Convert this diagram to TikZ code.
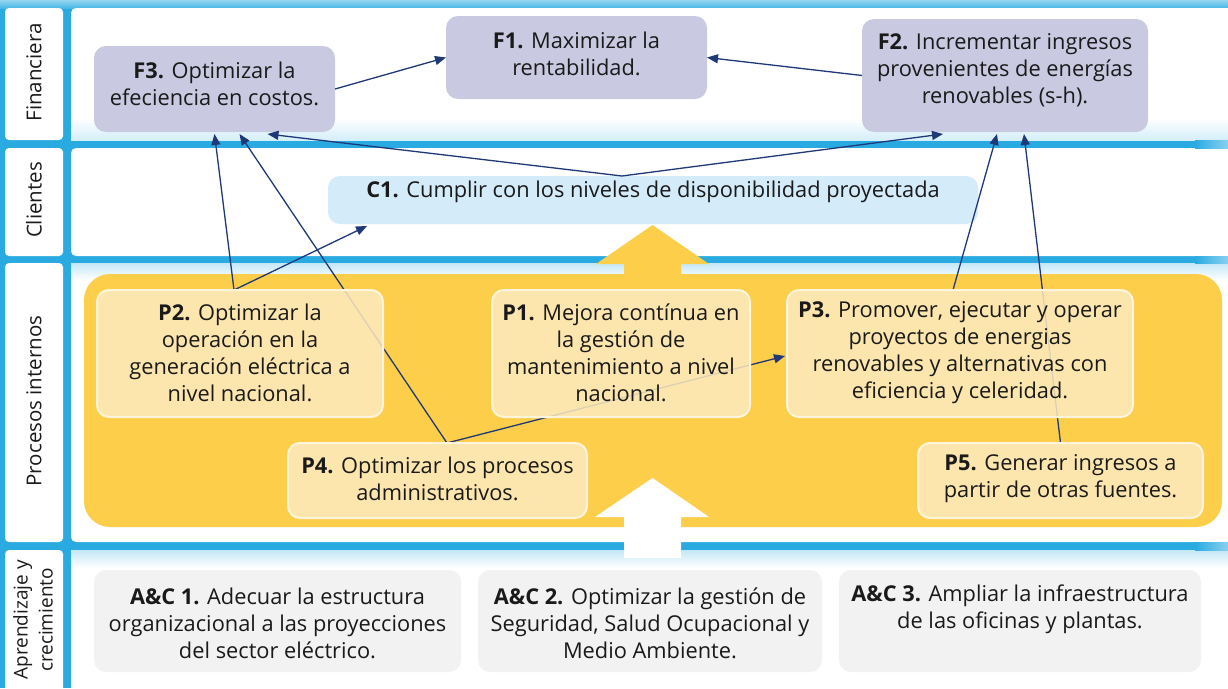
\documentclass[tikz,border=0pt]{standalone}
\usepackage{fontspec}
\setmainfont{Open Sans}
\usetikzlibrary{arrows.meta}
\definecolor{bandblue}{HTML}{29ABE2}
\definecolor{lightblue}{HTML}{D4EBFA}
\definecolor{lav}{HTML}{C9C9E2}
\definecolor{gold}{HTML}{FDCE4A}
\definecolor{cream}{HTML}{FDEBBF}
\definecolor{creamline}{HTML}{FFF5DD}
\definecolor{greybox}{HTML}{F2F2F2}
\definecolor{navy}{HTML}{1F3878}
\definecolor{ink}{HTML}{1A1A1A}
\begin{document}
\begin{tikzpicture}[x=1pt,y=-1pt,
  every node/.style={inner sep=0pt, outer sep=0pt},
  panel/.style={fill=white, rounded corners=5pt},
  lblpanel/.style={fill=white, rounded corners=4pt},
  fbox/.style={fill=lav, rounded corners=12pt},
  cbox/.style={fill=lightblue, rounded corners=12pt},
  pbox/.style={fill=cream, fill opacity=0.85, draw=creamline, draw opacity=1, line width=2pt, rounded corners=12pt},
  abox/.style={fill=greybox, rounded corners=12pt},
  txt/.style={align=center, text=ink, font=\fontsize{21.8}{27}\selectfont},
  lbl/.style={align=center, text=ink, rotate=90, font=\fontsize{20.5}{25}\selectfont},
  lblsmall/.style={align=center, text=ink, rotate=90, font=\fontsize{19}{25}\selectfont},
  arr/.style={draw=navy, line width=1.3pt, -{Triangle[length=11pt,width=9pt]}}
]
\useasboundingbox (0,0) rectangle (1228,688);
% background
\fill[bandblue] (0,0) rectangle (1228,688);
\shade[top color=bandblue!50, bottom color=bandblue!85] (0,0) rectangle (1228,8);
% label panels
\fill[lblpanel] (5,8) rectangle (63,140);
\fill[lblpanel] (5,148) rectangle (63,256);
\fill[lblpanel] (5,263) rectangle (63,542);
\fill[lblpanel] (5,550) rectangle (63,700);
% main panels
\fill[panel] (71,8) rectangle (1240,140);
\fill[panel] (71,148) rectangle (1240,256);
\fill[panel] (71,263) rectangle (1240,542);
\fill[panel] (71,550) rectangle (1240,700);
% fades
\shade[top color=white, bottom color=bandblue!20] (71,118) rectangle (1228,140);
\shade[top color=bandblue!28, bottom color=white] (71,263) rectangle (1228,280);
\shade[top color=bandblue!28, bottom color=white] (71,550) rectangle (1228,568);
\shade[left color=bandblue, right color=bandblue!55] (1195,140) rectangle (1228,148);
\shade[left color=bandblue, right color=bandblue!55] (1195,256) rectangle (1228,263);
\shade[left color=bandblue, right color=bandblue!55] (1195,542) rectangle (1228,550);
% labels
\node[lbl] (lf) at (34,72.5) {Financiera};
\node[lbl] (lc) at (34,200) {Clientes};
\node[lbl] (lp) at (34,401) {Procesos internos};
\node[lblsmall] (la) at (33,620) {Aprendizaje y\\crecimiento};
% yellow area
\fill[gold, rounded corners=26pt] (84,274) rectangle (1222,527);
\fill[gold] (624,276) -- (624,264) -- (596,264) -- (652.5,225) -- (709,264) -- (681,264) -- (681,276) -- cycle;
\fill[white] (624,558) -- (624,517) -- (595,517) -- (652.5,478) -- (709,517) -- (681,517) -- (681,558) -- cycle;
% boxes
\node[fbox, minimum width=241pt, minimum height=86pt] (F3) at (214.5,89) {};
\node[fbox, minimum width=261pt, minimum height=83pt] (F1) at (576.5,57.5) {};
\node[fbox, minimum width=286pt, minimum height=113pt] (F2) at (1005,75.5) {};
\node[cbox, minimum width=650pt, minimum height=48pt] (C1) at (653,200) {};
\node[abox, minimum width=367pt, minimum height=102pt] (A1) at (277.5,621) {};
\node[abox, minimum width=344pt, minimum height=102pt] (A2) at (650,621) {};
\node[abox, minimum width=362pt, minimum height=102pt] (A3) at (1020,621) {};
% connectors
\draw[arr] (F3.east) -- (F1.west);
\draw[arr] (F2.west) -- (F1.east);
\draw[arr] ([xshift=-31pt]C1.north) -- ([xshift=53pt,yshift=-2pt]F3.south);
\draw[arr] ([xshift=-31pt]C1.north) -- ([xshift=-62pt,yshift=-2pt]F2.south);
\coordinate (p2top) at (234,290);
\coordinate (p4top) at (447,443);
\coordinate (p3top) at (953,290);
\coordinate (p5top) at (1060.5,443);
\coordinate (p3in) at (785,356);
\draw[arr] (p2top) -- ([yshift=-2pt]F3.south);
\draw[arr] (p2top) -- ([xshift=39pt,yshift=-2pt]C1.south west);
\draw[arr] (p4top) -- ([xshift=25pt,yshift=-2pt]F3.south);
\draw[arr] (p4top) -- (p3in);
\draw[arr] (p3top) -- ([xshift=-8pt,yshift=-2pt]F2.south);
\draw[arr] (p5top) -- ([xshift=19pt,yshift=-2pt]F2.south);
% process boxes (over the connectors)
\node[pbox, minimum width=286pt, minimum height=127pt] (P2) at (240,353.5) {};
\node[pbox, minimum width=258pt, minimum height=127pt] (P1) at (621,353.5) {};
\node[pbox, minimum width=346pt, minimum height=127pt] (P3) at (960,353.5) {};
\node[pbox, minimum width=299pt, minimum height=75pt] (P4) at (437.5,480.5) {};
\node[pbox, minimum width=285pt, minimum height=75pt] (P5) at (1060.5,480.5) {};
% texts
\node[txt] (F3t) at (214.5,84) {\textbf{F3.} Optimizar la\\efeciencia en costos.};
\node[txt] (F1t) at (576.5,54) {\textbf{F1.} Maximizar la\\rentabilidad.};
\node[txt] (F2t) at (1005,70) {\textbf{F2.} Incrementar ingresos\\provenientes de energías\\renovables (s-h).};
\node[txt] (C1t) at (653,192) {\textbf{C1.} Cumplir con los niveles de disponibilidad proyectada};
\node[txt] (P2t) at (240,353) {\textbf{P2.} Optimizar la\\operación en la\\generación eléctrica a\\nivel nacional.};
\node[txt] (P1t) at (621,353) {\textbf{P1.} Mejora contínua en\\la gestión de\\mantenimiento a nivel\\nacional.};
\node[txt] (P3t) at (960,353) {\textbf{P3.} Promover, ejecutar y operar\\proyectos de energias\\renovables y alternativas con\\eficiencia y celeridad.};
\node[txt] (P4t) at (437.5,479) {\textbf{P4.} Optimizar los procesos\\administrativos.};
\node[txt] (P5t) at (1060.5,479) {\textbf{P5.} Generar ingresos a\\partir de otras fuentes.};
\node[txt] (A1t) at (277.5,623) {\textbf{A\&C 1.} Adecuar la estructura\\organizacional a las proyecciones\\del sector eléctrico.};
\node[txt] (A2t) at (650,623) {\textbf{A\&C 2.} Optimizar la gestión de\\Seguridad, Salud Ocupacional y\\Medio Ambiente.};
\node[txt] (A3t) at (1020,609.5) {\textbf{A\&C 3.} Ampliar la infraestructura\\de las oficinas y plantas.};
\end{tikzpicture}
\end{document}
